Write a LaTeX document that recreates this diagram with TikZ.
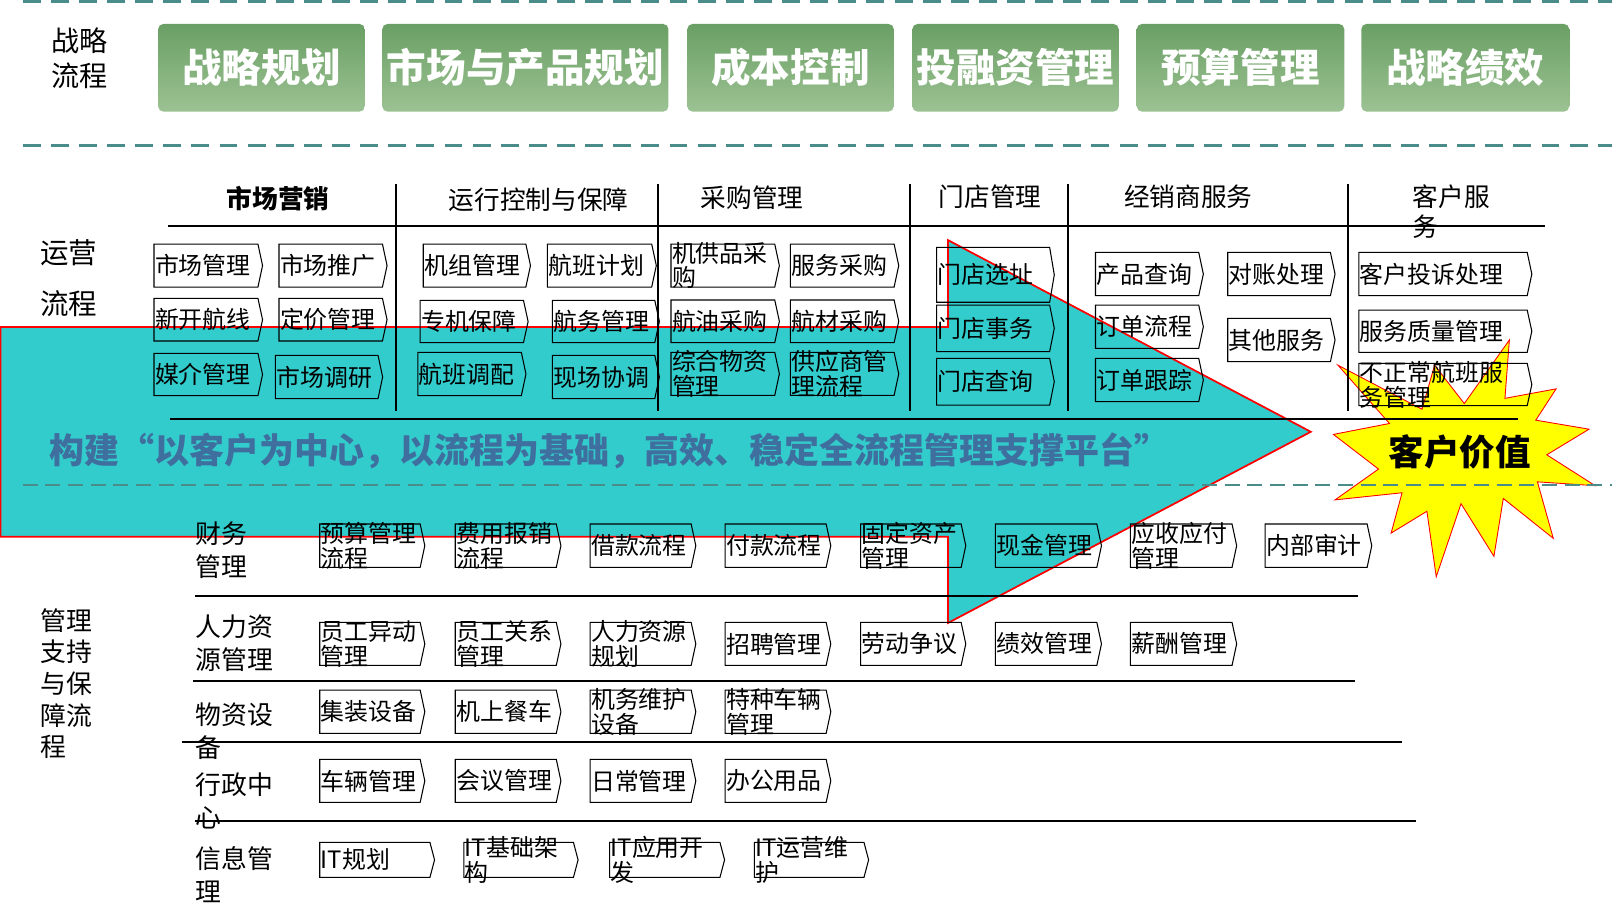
\documentclass[tikz,border=0pt]{standalone}
\usepackage{fontspec}
\setmainfont{Noto Sans CJK SC}
\definecolor{teald}{HTML}{4A8C89}
\definecolor{gtop}{HTML}{6A9F64}
\definecolor{gbot}{HTML}{9CC293}
\definecolor{arrowfill}{HTML}{33CCCC}
\definecolor{arrowtxt}{HTML}{3F6F9F}
\definecolor{starfill}{HTML}{FFFF00}
\newcommand\procbox[6]{%
  \draw[boxline] (#2,#3) -- ({#4-4.5},#3) -- (#4,{(#3+#5)/2}) -- ({#4-4.5},#5) -- (#2,#5) -- cycle;
  \node[boxtext] (#1) at (#2,{(#3+#5)/2}) {#6};}
\newcommand\greenbox[6]{%
  \shade[top color=gtop,bottom color=gbot,rounded corners=3pt] (#2,#3) rectangle (#4,#5);
  \node[gtext] (#1) at ({(#2+#4)/2},{(#3+#5)/2}) {#6};}
\begin{document}
\begin{tikzpicture}[x=0.020561cm,y=-0.020561cm,
  boxline/.style={draw=black,line width=0.6pt},
  boxtext/.style={anchor=west,inner sep=0.4pt,align=left,font=\fontsize{13.6}{14}\selectfont},
  gtext/.style={text=white,font=\bfseries\fontsize{22.5}{24}\selectfont,inner sep=0pt},
  sidelabel/.style={anchor=west,inner sep=0pt,align=left,font=\fontsize{16}{19.8}\selectfont},
  rowlabel/.style={anchor=west,inner sep=0pt,align=left,font=\fontsize{14.7}{18.6}\selectfont},
  headlabel/.style={inner sep=0pt,font=\fontsize{14.6}{17.2}\selectfont},
  sepline/.style={line width=1.05pt},
  topdash/.style={teald,line width=1.5pt,dash pattern=on 10.2pt off 5.8pt},
  middash/.style={teald,line width=1.1pt,dash pattern=on 8.5pt off 4.4pt}]
\useasboundingbox (0,0) rectangle (1568,896);

% strategy band
\draw[topdash] (22,1.3) -- (1568,1.3);
\draw[topdash] (22,141.7) -- (1568,141.7);
\node[sidelabel] (zl) at (49.6,57) {战略\\流程};
\greenbox{g1}{153.8}{23.3}{354.9}{108.6}{战略规划}
\greenbox{g2}{371.8}{23.3}{650.2}{108.6}{市场与产品规划}
\greenbox{g3}{668.5}{23.3}{869.4}{108.6}{成本控制}
\greenbox{g4}{887.4}{23.3}{1088.2}{108.6}{投融资管理}
\greenbox{g5}{1105.7}{23.3}{1307.6}{108.6}{预算管理}
\greenbox{g6}{1324.1}{23.3}{1526.4}{108.6}{战略绩效}

% big arrow
\draw[fill=arrowfill,draw=red,line width=1pt,line join=miter]
  (0.5,318) -- (922,318) -- (922,233.5) -- (1275,420) -- (922,606) -- (922,522) -- (0.5,522) -- cycle;

% star
\begin{scope}[shift={(1297,330.7)},xscale=1.1787,yscale=1.0662]
\draw[fill=starfill,draw=red,line width=0.5pt,line join=miter]
 (108,58) -- (145.22,0) -- (141.55,53.25) -- (183.80,44.57) -- (167.02,73.15) -- (210.97,81.37)
 -- (176.07,104.75) -- (216,132.9) -- (168.37,129.42) -- (181.45,180.95) -- (140.20,144.57)
 -- (132.47,197.37) -- (105.32,149.35) -- (84.85,216) -- (77.15,156.27) -- (47.62,176.17)
 -- (56.67,139.37) -- (1.35,145.87) -- (37.22,117.75) -- (0,86.15) -- (46.27,76.17)
 -- (3.70,22.95) -- (73.12,63.20) -- (83.52,22.95) -- cycle;
\end{scope}

\draw[middash] (22,471.8) -- (1568,471.8);

% operations grid lines
\draw[sepline] (163.7,219.7) -- (1502.8,219.7);
\draw[sepline] (165,407.5) -- (1477,407.5);
\foreach \vx in {385.2,640.4,885.2,1039.1,1311.3}
  \draw[sepline] (\vx,179) -- (\vx,399.5);

\node[sidelabel,font=\fontsize{16.2}{28.9}\selectfont] (yy) at (39,270.2) {运营\\流程};
\node[headlabel,font=\bfseries\fontsize{14.6}{17}\selectfont] (h1) at (270.5,193.6) {市场营销};
\node[headlabel] (h2) at (524,194.6) {运行控制与保障};
\node[headlabel] (h3) at (731.5,192) {采购管理};
\node[headlabel] (h4) at (963,191.3) {门店管理};
\node[headlabel] (h5) at (1156,191) {经销商服务};
\node[headlabel,anchor=west,align=left] (h6) at (1374,205.8) {客户服\\务};

\procbox{mm1}{149.8}{237.4}{255.4}{279.2}{市场管理}
\procbox{mm2}{271.4}{237.4}{376.5}{279.2}{市场推广}
\procbox{oc1}{411.7}{237.4}{516}{279.2}{机组管理}
\procbox{oc2}{532.4}{237.4}{638.4}{279.2}{航班计划}
\procbox{pm1}{652.7}{237.4}{758.1}{279.2}{机供品采\\购}
\procbox{pm2}{768.8}{237.4}{874.2}{279.2}{服务采购}

\procbox{mm3}{149.8}{290.2}{255.4}{331.7}{新开航线}
\procbox{mm4}{271.4}{290.2}{376.5}{331.7}{定价管理}
\procbox{oc3}{408.6}{292.2}{513.7}{333.3}{专机保障}
\procbox{oc4}{537.2}{292.2}{641.4}{333.3}{航务管理}
\procbox{pm3}{652.7}{291.8}{758.1}{333.3}{航油采购}
\procbox{pm4}{768.8}{291.8}{874.2}{333.3}{航材采购}

\procbox{mm5}{149.8}{343.7}{255.4}{384.9}{媒介管理}
\procbox{mm6}{267.9}{345.6}{372.2}{387.8}{市场调研}
\procbox{oc5}{406.5}{342.7}{511.6}{384.9}{航班调配}
\procbox{oc6}{537.2}{345.6}{641.4}{387.8}{现场协调}
\procbox{pm5}{652.7}{342.7}{758.1}{384.6}{综合物资\\管理}
\procbox{pm6}{768.8}{342.7}{874.2}{384.6}{供应商管\\理流程}

\procbox{st1}{911}{240.6}{1025.5}{294}{门店选址}
\procbox{st2}{911}{296.7}{1025.5}{342}{门店事务}
\procbox{st3}{911}{348.6}{1025.5}{394}{门店查询}

\procbox{ds1}{1065.6}{245.5}{1170.5}{287.6}{产品查询}
\procbox{ds2}{1194.2}{245.5}{1298.6}{287.6}{对账处理}
\procbox{ds3}{1065.6}{296.7}{1170.5}{338.8}{订单流程}
\procbox{ds4}{1194.2}{309.7}{1298.6}{351.8}{其他服务}
\procbox{ds5}{1065.6}{348.6}{1170.5}{390.7}{订单跟踪}

\procbox{cs1}{1321.7}{245.5}{1490}{287.6}{客户投诉处理}
\procbox{cs2}{1321.7}{301.6}{1490}{342.7}{服务质量管理}
\procbox{cs3}{1321.7}{353.4}{1490}{394.6}{不正常航班服\\务管理}

% arrow and star texts
\node[anchor=west,inner sep=0pt,text=arrowtxt,font=\bfseries\fontsize{19.9}{21}\selectfont] (slogan) at (48,438.5)
  {构建“以客户为中心，以流程为基础，高效、稳定全流程管理支撑平台”};
\node[inner sep=0pt,font=\bfseries\fontsize{20.2}{22}\selectfont] (value) at (1420,439.4) {客户价值};

% management support
\node[rowlabel,font=\fontsize{14.7}{18}\selectfont] (gl) at (39.1,664.8) {管理\\支持\\与保\\障流\\程};
\draw[sepline] (189.8,579.4) -- (1321.3,579.4);
\draw[sepline] (187.7,662.1) -- (1318.1,662.1);
\draw[sepline] (177,721.5) -- (1364.1,721.5);
\draw[sepline] (189.8,798.3) -- (1377.7,798.3);

\node[rowlabel] (r1) at (190,535) {财务\\管理};
\node[rowlabel] (r2) at (190,625.4) {人力资\\源管理};
\node[rowlabel] (r3) at (190,710.9) {物资设\\备};
\node[rowlabel] (r4) at (190,779) {行政中\\心};
\node[rowlabel] (r5) at (190,850.4) {信息管\\理};

\procbox{f1}{311}{509.7}{413.2}{551.9}{预算管理\\流程}
\procbox{f2}{442.8}{509.7}{545.6}{551.9}{费用报销\\流程}
\procbox{f3}{574}{509.7}{676.8}{551.9}{借款流程}
\procbox{f4}{705.3}{509.7}{808.1}{551.9}{付款流程}
\procbox{f5}{837.2}{509.7}{939.4}{551.9}{固定资产\\管理}
\procbox{f6}{968.1}{509.7}{1071.4}{551.9}{现金管理}
\procbox{f7}{1099.6}{509.7}{1202.9}{551.9}{应收应付\\管理}
\procbox{f8}{1230.6}{509.7}{1334.3}{551.9}{内部审计}

\procbox{hr1}{311}{605.4}{413.2}{647.2}{员工异动\\管理}
\procbox{hr2}{442.8}{605.4}{545.6}{647.2}{员工关系\\管理}
\procbox{hr3}{574}{605.4}{676.8}{647.2}{人力资源\\规划}
\procbox{hr4}{705.3}{605.4}{808.1}{647.2}{招聘管理}
\procbox{hr5}{837.2}{605.4}{939.4}{647.2}{劳动争议}
\procbox{hr6}{968.1}{605.4}{1071.4}{647.2}{绩效管理}
\procbox{hr7}{1099.6}{605.4}{1202.9}{647.2}{薪酬管理}

\procbox{su1}{311}{671.2}{413.2}{713.4}{集装设备}
\procbox{su2}{442.8}{671.2}{545.6}{713.4}{机上餐车}
\procbox{su3}{574}{671.2}{676.8}{713.4}{机务维护\\设备}
\procbox{su4}{705.3}{671.2}{808.1}{713.4}{特种车辆\\管理}

\procbox{ad1}{311}{738.6}{413.2}{780.5}{车辆管理}
\procbox{ad2}{442.8}{738.6}{545.6}{780.5}{会议管理}
\procbox{ad3}{574}{738.6}{676.8}{780.5}{日常管理}
\procbox{ad4}{705.3}{738.6}{808.1}{780.5}{办公用品}

\procbox{it1}{311}{819.4}{422.7}{853.4}{IT规划}
\procbox{it2}{451.2}{819.4}{562.3}{853.4}{IT基础架\\构}
\procbox{it3}{593}{819.4}{704.8}{853.4}{IT应用开\\发}
\procbox{it4}{733.7}{819.4}{844.9}{853.4}{IT运营维\\护}
\end{tikzpicture}
\end{document}
